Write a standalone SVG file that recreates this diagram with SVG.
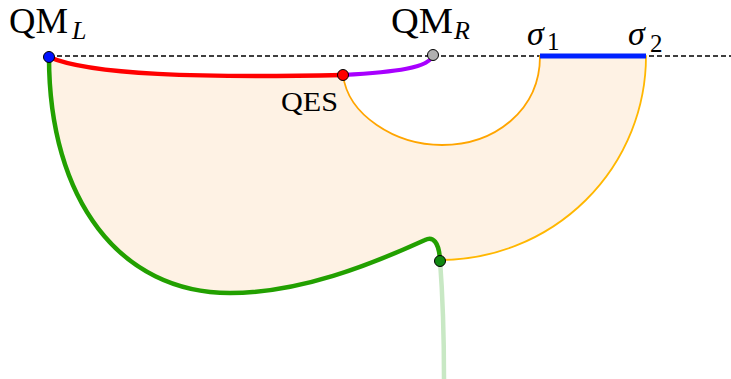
<svg xmlns="http://www.w3.org/2000/svg" width="731" height="379" viewBox="0 0 731 379">
<style>
.lbl{font-family:"Liberation Serif","Times New Roman",serif;fill:#000}
.it{font-style:italic}
.dot{stroke:#000;stroke-width:1}
.curve{fill:none;stroke-linecap:round}
</style>
<rect width="731" height="379" fill="#fff"/>
<g id="region">
<path d="M49,57 C90,75 200,78 343,75 C348,115 395,145 442,145 C495,145 540,110 540,56 L646,56 A206,204 0 0 1 440,260 C439,242 433,236 425,240 C370,265 300,293 230,293 C120,293 49,200 49,57 Z" fill="#fef2e4" stroke="none"/>
</g>
<g id="connectors">
<line x1="49" y1="56" x2="731" y2="56" stroke="#000" stroke-width="1.5" stroke-dasharray="5,3"/>
<path class="curve" d="M343,75 C348,115 395,145 442,145 C495,145 540,110 540,56" stroke="#ffa500" stroke-width="1.8"/>
<path class="curve" d="M646,56 A206,204 0 0 1 440,260" stroke="#ffb700" stroke-width="1.8"/>
<line x1="540" y1="56" x2="646" y2="56" stroke="#0022ff" stroke-width="5"/>
<path class="curve" d="M440,260 C443,300 444,340 444,379" stroke="#c8e8c4" stroke-width="4.5"/>
<path class="curve" d="M49,57 C49,200 120,293 230,293 C300,293 370,265 425,240 C433,236 439,242 440,260" stroke="#22a000" stroke-width="4.5"/>
<path class="curve" d="M49,57 C90,75 200,78 343,75" stroke="#ff0000" stroke-width="4.5"/>
<path class="curve" d="M343,75 C395,72 430,68 433,55" stroke="#a800ff" stroke-width="4"/>
</g>
<g id="node-QML">
<circle class="dot" cx="49" cy="57" r="5.5" fill="#0011ff"/>
<text class="lbl" x="9" y="33" font-size="35" textLength="59" lengthAdjust="spacingAndGlyphs">QM</text>
<text class="lbl it" x="72" y="39" font-size="26">L</text>
</g>
<g id="node-QMR">
<circle class="dot" cx="433" cy="55" r="5.5" fill="#b0b0b0"/>
<text class="lbl" x="391" y="33" font-size="35" textLength="62" lengthAdjust="spacingAndGlyphs">QM</text>
<text class="lbl it" x="454" y="39" font-size="26">R</text>
</g>
<g id="node-QES">
<circle class="dot" cx="343" cy="75" r="5.5" fill="#ff0000"/>
<text class="lbl" x="281" y="111" font-size="28" textLength="57" lengthAdjust="spacingAndGlyphs">QES</text>
</g>
<g id="node-sigma1">
<text class="lbl it" x="527" y="45" font-size="34">σ</text>
<text class="lbl" x="547" y="50" font-size="25">1</text>
</g>
<g id="node-sigma2">
<text class="lbl it" x="628" y="45" font-size="34">σ</text>
<text class="lbl" x="650" y="52" font-size="25">2</text>
</g>
<g id="node-green">
<circle class="dot" cx="440" cy="261" r="5.5" fill="#118811"/>
</g>
</svg>
